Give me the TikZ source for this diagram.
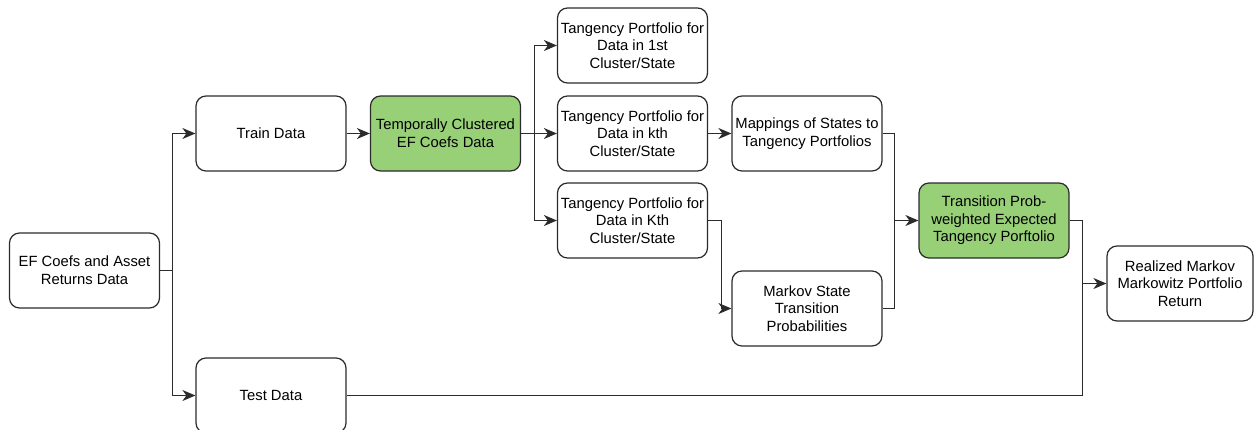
\documentclass[tikz,border=0pt]{standalone}
\usepackage{fontspec}
\setmainfont{Liberation Sans}
\usetikzlibrary{arrows.meta}
\definecolor{boxgreen}{HTML}{97D077}
\definecolor{ink}{HTML}{2B2B2B}
\begin{document}
\begin{tikzpicture}[x=1pt,y=-1pt,
  box/.style={draw=ink, line width=1.2pt, rounded corners=10pt,
    minimum width=150pt, minimum height=75pt, align=center, inner sep=0pt,
    font=\fontsize{14.8}{17.6}\selectfont},
  greenbox/.style={box, fill=boxgreen},
  wire/.style={line width=1.2pt, draw=ink},
  link/.style={wire, -{Stealth[length=13pt,width=11pt,inset=4pt]}}]
\useasboundingbox (0,0) rectangle (1254,429);

% boxes
\node[box] (ef) at (84.5,270.5) {EF Coefs and Asset\\Returns Data};
\node[box] (train) at (271,133.5) {Train Data};
\node[box] (test) at (271,395.5) {Test Data};
\node[greenbox] (tcl) at (445.5,133.5) {Temporally Clustered\\EF Coefs Data};
\node[box] (tp1) at (632.5,45.5) {Tangency Portfolio for\\Data in 1st\\Cluster/State};
\node[box] (tpk) at (632.5,133.5) {Tangency Portfolio for\\Data in kth\\Cluster/State};
\node[box] (tpK) at (632.5,220.5) {Tangency Portfolio for\\Data in Kth\\Cluster/State};
\node[box] (map) at (807,133.5) {Mappings of States to\\Tangency Portfolios};
\node[box] (markov) at (807,308.5) {Markov State\\Transition\\Probabilities};
\node[greenbox] (trans) at (994,220.5) {Transition Prob-\\weighted Expected\\Tangency Porftolio};
\node[box, minimum width=146pt] (real) at (1180,283.5) {Realized Markov\\Markowitz Portfolio\\Return};

% connectors
\draw[wire] (ef.east) -- ++(12,0) coordinate (j0);
\draw[link] (j0) |- (train.west);
\draw[link] (j0) |- (test.west);
\draw[link] (train) -- (tcl);
\draw[wire] (tcl.east) -- ++(13,0) coordinate (jt);
\draw[link] (jt) |- (tp1.west);
\draw[link] (jt) -- (tpk.west);
\draw[link] (jt) |- (tpK.west);
\draw[link] (tpk) -- (map);
\draw[link] (tpK.east) -- ++(13,0) |- (markov.west);
\draw[wire] (map.east) -- ++(12,0) coordinate (j1) |- (markov.east);
\draw[link] (j1 |- trans) -- (trans.west);
\draw[wire] (trans.east) -- ++(13,0) coordinate (j2) |- (test.east);
\draw[link] (j2 |- real) -- (real.west);
\end{tikzpicture}
\end{document}
